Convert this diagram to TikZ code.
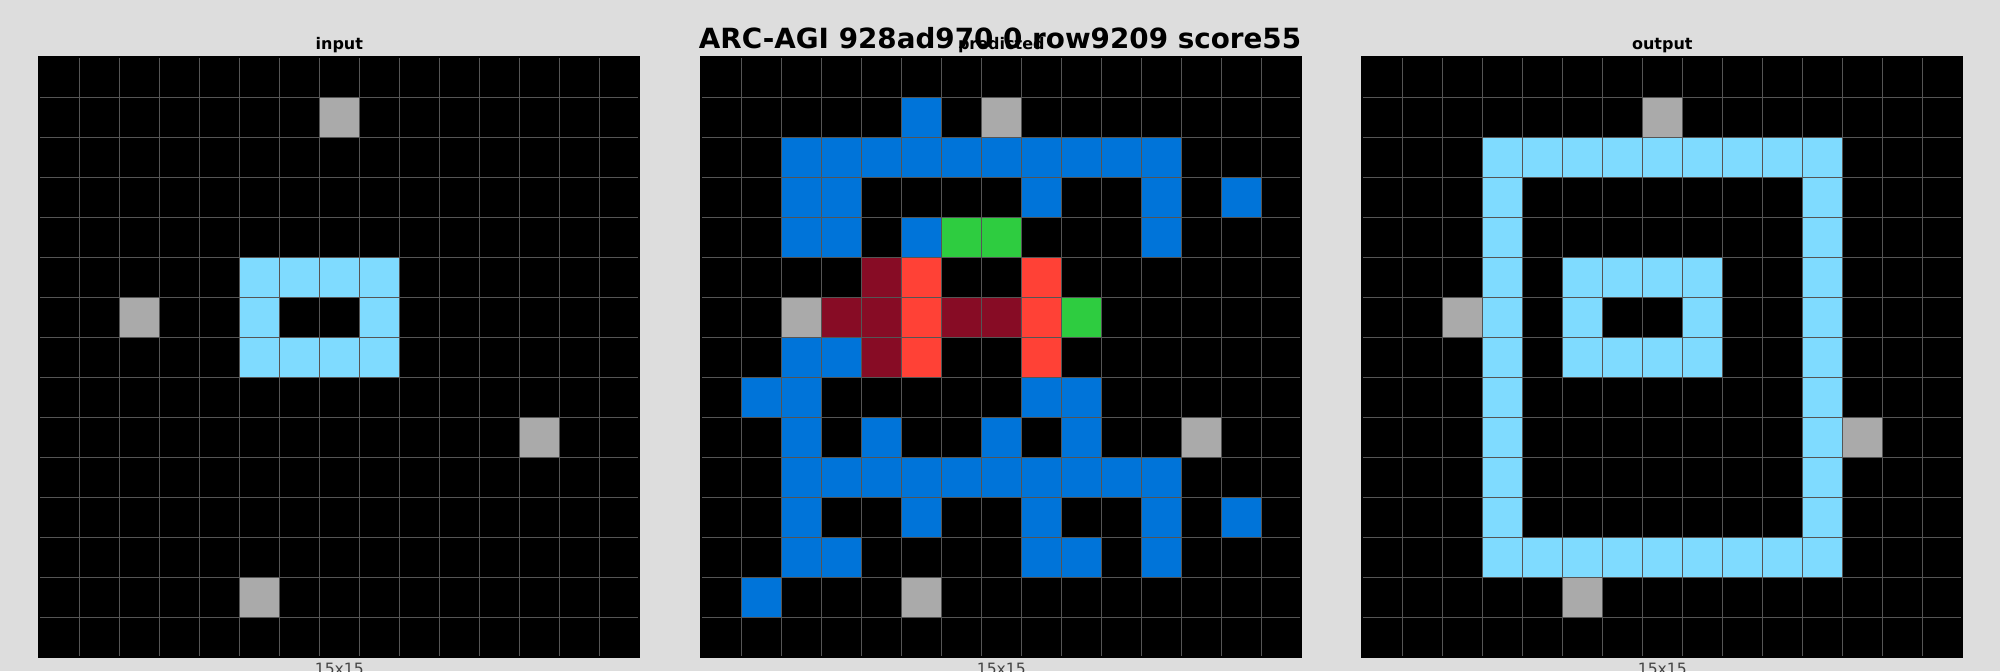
\documentclass[tikz,border=0pt]{standalone}
\usepackage{fontspec}
\setmainfont{DejaVu Sans}
\usepackage{tikz}
\definecolor{arcPaper}{HTML}{DDDDDD}
\definecolor{arcBlack}{HTML}{000000}
\definecolor{arcBlue}{HTML}{0074D9}
\definecolor{arcRed}{HTML}{FF4136}
\definecolor{arcGreen}{HTML}{2ECC40}
\definecolor{arcGrey}{HTML}{AAAAAA}
\definecolor{arcSky}{HTML}{7FDBFF}
\definecolor{arcMaroon}{HTML}{870C25}
\definecolor{arcLine}{HTML}{555555}
\definecolor{arcCaption}{HTML}{444444}
\tikzset{
  arc diagram/.style={x=0.5pt, y=-0.5pt, line join=miter},
  arc rule/.style={draw=arcLine, line width=0.6pt},
  arc frame/.style={draw=black, line width=1pt},
  arc title/.style={font=\bfseries\fontsize{13.9}{16}\selectfont,
    anchor=base, inner sep=0pt},
  arc panel/.style={font=\bfseries\fontsize{8}{10}\selectfont,
    anchor=base, inner sep=0pt},
  arc size/.style={font=\fontsize{7.8}{9}\selectfont, text=arcCaption,
    anchor=base, inner sep=0pt}
}

\begin{document}
\begin{tikzpicture}[arc diagram]
\useasboundingbox[fill=arcPaper] (0,0) rectangle (2000,671);
% three 15x15 panels, 40px cells
\foreach \ox/\name in {39.3/input,701.3/predicted,1362.3/output}{
  \fill[arcBlack] (\ox,57.3) rectangle ++(600,600);
  \node[arc panel] (\name-title) at (\ox+300,49.5) {\name};
  \node[arc size] (\name-size) at (\ox+300,674) {15x15};
  \foreach \r/\c in {1/7,6/2,9/12,13/5}
    \fill[arcGrey] ({\ox+40*\c},{57.3+40*\r}) rectangle ++(40,40);
}
% input
\foreach \r/\c in {5/5,5/6,5/7,5/8,6/5,6/8,7/5,7/6,7/7,7/8}
  \fill[arcSky] ({39.3+40*\c},{57.3+40*\r}) rectangle ++(40,40);
% predicted
\foreach \r/\c in {1/5,3/2,3/3,3/8,3/11,3/13,4/2,4/3,4/5,4/11,7/2,7/3,
    8/1,8/2,8/8,8/9,9/2,9/4,9/7,9/9,11/2,11/5,11/8,11/11,11/13,
    12/2,12/3,12/8,12/9,12/11,13/1}
  \fill[arcBlue] ({701.3+40*\c},{57.3+40*\r}) rectangle ++(40,40);
\foreach \r in {2,10}
  \fill[arcBlue] ({701.3+80},{57.3+40*\r}) rectangle ++(400,40);
\foreach \r/\c in {4/6,4/7,6/9}
  \fill[arcGreen] ({701.3+40*\c},{57.3+40*\r}) rectangle ++(40,40);
\foreach \r/\c in {5/5,5/8,6/5,6/8,7/5,7/8}
  \fill[arcRed] ({701.3+40*\c},{57.3+40*\r}) rectangle ++(40,40);
\foreach \r/\c in {5/4,6/3,6/4,6/6,6/7,7/4}
  \fill[arcMaroon] ({701.3+40*\c},{57.3+40*\r}) rectangle ++(40,40);
% output
\foreach \r/\c in {5/5,5/6,5/7,5/8,6/5,6/8,7/5,7/6,7/7,7/8}
  \fill[arcSky] ({1362.3+40*\c},{57.3+40*\r}) rectangle ++(40,40);
\foreach \r in {2,12}
  \fill[arcSky] ({1362.3+120},{57.3+40*\r}) rectangle ++(360,40);
\foreach \c in {3,11}
  \fill[arcSky] ({1362.3+40*\c},{57.3+120}) rectangle ++(40,360);
% cell rules and frames
\foreach \ox in {39.3,701.3,1362.3}{
  \foreach \k in {1,...,14}{
    \draw[arc rule] ({\ox+40*\k},57.3) -- ++(0,600);
    \draw[arc rule] (\ox,{57.3+40*\k}) -- ++(600,0);
  }
  \draw[arc frame] (\ox,57.3) rectangle ++(600,600);
}
\node[arc title] (main-title) at (1000,48.3) {ARC-AGI 928ad970 0 row9209 score55};
\end{tikzpicture}
\end{document}
